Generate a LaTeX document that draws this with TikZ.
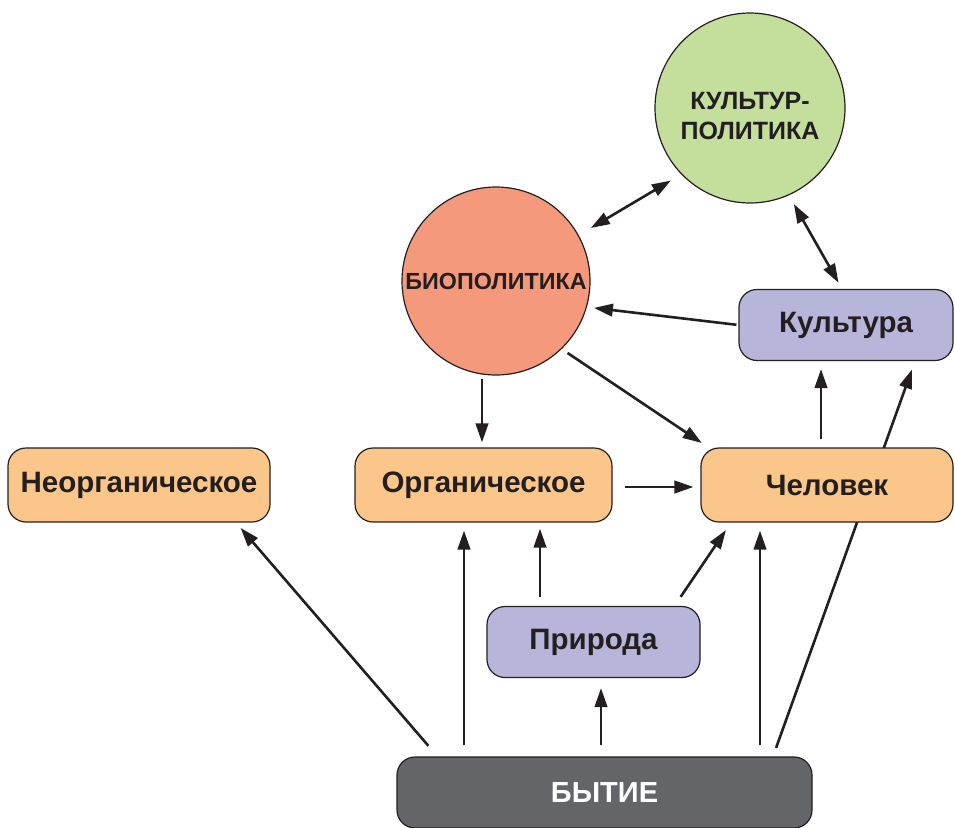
\documentclass[tikz,border=0pt]{standalone}
\usepackage{fontspec}
\setmainfont{Liberation Sans}
\usetikzlibrary{arrows.meta,backgrounds}
\definecolor{ink}{HTML}{231F20}
\definecolor{orangefill}{HTML}{FAC68A}
\definecolor{lavfill}{HTML}{B8B5DA}
\definecolor{redfill}{HTML}{F4997B}
\definecolor{greenfill}{HTML}{C4DE9C}
\definecolor{darkfill}{HTML}{646569}
\tikzset{
  boxbase/.style={draw=ink, line width=1.2pt, rounded corners=18pt, align=center,
     font=\fontsize{29.5}{32}\selectfont\bfseries, text=ink, inner sep=0pt},
  orangebox/.style={boxbase, fill=orangefill},
  lavbox/.style={boxbase, fill=lavfill},
  darkbox/.style={boxbase, fill=darkfill, text=white, font=\fontsize{29}{32}\selectfont\bfseries},
  circ/.style={circle, draw=ink, line width=1.2pt, inner sep=0pt, align=center, text=ink},
  arr/.style={draw=ink, line width=2.6pt, -{Triangle[length=19pt,width=12.5pt]}},
  darr/.style={draw=ink, line width=2.6pt, {Triangle[length=19pt,width=12.5pt]}-{Triangle[length=19pt,width=12.5pt]}},
}
\begin{document}
\begin{tikzpicture}[x=1pt,y=-1pt]
\useasboundingbox (0,0) rectangle (955,827);
% nodes
\node[circ, fill=greenfill, minimum size=190pt, text depth=0pt,
      font=\fontsize{25}{30}\selectfont\bfseries] (kp) at (750,108) {};
\node[anchor=center, align=center, text=ink, inner sep=0pt,
      font=\fontsize{25}{30}\selectfont\bfseries] (kplabel) at (750,116) {КУЛЬТУР-\\ПОЛИТИКА};
\node[circ, fill=redfill, minimum size=188pt, font=\fontsize{23.3}{26}\selectfont\bfseries] (bp) at (496,281) {БИОПОЛИТИКА};
\node[lavbox, minimum width=214pt, minimum height=71pt] (kul) at (846,325) {Культура};
\node[orangebox, minimum width=262pt, minimum height=74pt] (neo) at (139,485) {Неорганическое};
\node[orangebox, minimum width=257pt, minimum height=74pt] (org) at (483.5,485) {Органическое};
\node[orangebox, minimum width=252pt, minimum height=74pt] (chel) at (827,485) {Человек};
\node[lavbox, minimum width=213pt, minimum height=71pt] (pri) at (593.5,642) {Природа};
\node[darkbox, minimum width=415pt, minimum height=71pt] (byt) at (604.5,792.5) {БЫТИЕ};
% background line passing behind Человек
\begin{scope}[on background layer]
\draw[arr, shorten <=9pt, shorten >=9pt] ([xshift=168.5pt]byt.north) -- ([xshift=69pt]kul.south);
\end{scope}
% connectors
\draw[darr, shorten <=14pt, shorten >=12pt] (bp.29) -- (kp.224);
\draw[darr, shorten <=10pt, shorten >=7pt] (kp.-66) -- ([xshift=-4pt]kul.north);
\draw[arr, shorten <=2pt, shorten >=7pt] (kul.west) -- (bp.-16);
\draw[arr, shorten <=7pt, shorten >=8pt] (bp.-46) -- ([xshift=8pt]chel.north west);
\draw[arr, shorten <=3pt, shorten >=5pt] ([xshift=-14pt]bp.south) -- ([xshift=-14pt]bp.south |- org.north);
\draw[arr, shorten <=12pt, shorten >=7pt] ([yshift=-2pt]org.east) -- ([yshift=-2pt]chel.west);
\draw[arr, shorten <=8pt, shorten >=8pt] ([xshift=-6pt]chel.north) -- ([xshift=-6pt]chel.north |- kul.south);
\draw[arr, shorten <=9pt, shorten >=6pt] ([xshift=-53.5pt]pri.north) -- ([xshift=-53.5pt]pri.north |- org.south);
\draw[arr, shorten <=11pt, shorten >=9pt] ([xshift=81pt]pri.north) -- ([xshift=-96pt]chel.south);
\draw[arr, shorten <=11pt, shorten >=10pt] ([xshift=-3.5pt]byt.north) -- ([xshift=-3.5pt]byt.north |- pri.south);
\draw[arr, shorten <=14pt, shorten >=7pt] ([xshift=-167pt]byt.north) -- ([xshift=97pt]neo.south);
\draw[arr, shorten <=11pt, shorten >=8pt] ([xshift=-140.5pt]byt.north) -- ([xshift=-140.5pt]byt.north |- org.south);
\draw[arr, shorten <=11pt, shorten >=8pt] ([xshift=155.5pt]byt.north) -- ([xshift=155.5pt]byt.north |- chel.south);
\end{tikzpicture}
\end{document}
